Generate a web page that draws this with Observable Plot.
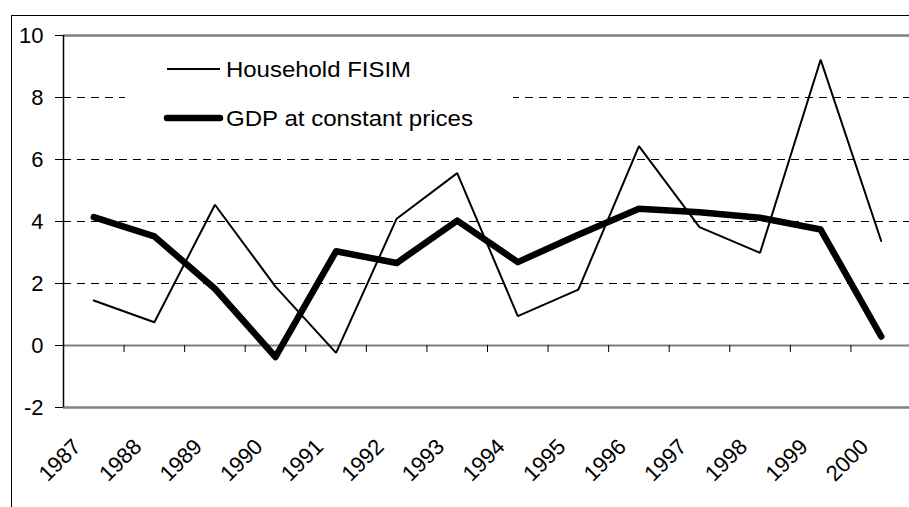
<!DOCTYPE html>
<html><head><meta charset="utf-8">
<script src="https://cdn.jsdelivr.net/npm/d3@7"></script>
<script src="https://cdn.jsdelivr.net/npm/@observablehq/plot@0.6"></script>
<style>
body{margin:0;background:#fff;overflow:hidden;width:909px;height:507px;position:relative;font-family:"Liberation Sans",Arial,sans-serif}
#frame{position:absolute;left:11px;top:15px;width:1000px;height:600px;border:1px solid #000;box-sizing:border-box}
#chart{position:absolute;left:0;top:0}
#legend{position:absolute;left:125px;top:50px;width:388px;height:86px;background:#fff}
</style>
</head><body>
<div id="frame"></div>
<div id="chart"></div>
<div id="legend"></div>
<script>
const years = [1987,1988,1989,1990,1991,1992,1993,1994,1995,1996,1997,1998,1999,2000];
const fisim = [1.45,0.75,4.54,1.9,-0.24,4.09,5.56,0.95,1.8,6.43,3.82,2.99,9.22,3.37];
const gdp   = [4.14,3.52,1.83,-0.37,3.04,2.66,4.03,2.69,3.57,4.41,4.3,4.12,3.74,0.29];
const yTicks = [-2,0,2,4,6,8,10];
const gridTicks = [2,4,6,8];
const seriesNames = ["Household FISIM","GDP at constant prices"];

const font = '"Liberation Sans", Arial, sans-serif';
const fisimData = years.map((yr,i)=>({year:yr, v:fisim[i]}));
const gdpData = years.map((yr,i)=>({year:yr, v:gdp[i]}));
const bounds = d3.range(years.length+1).map(i => years[0]-0.5+i);

const chart = Plot.plot({
  width:909, height:507,
  marginLeft:63, marginTop:35, marginRight:0, marginBottom:100,
  x:{domain:[bounds[0], bounds[bounds.length-1]], range:[63,911], axis:null},
  y:{domain:[yTicks[0], yTicks[yTicks.length-1]], range:[407,35], label:null},
  style:{fontFamily:font, fontSize:"22px", color:"#000", background:"transparent", overflow:"visible"},
  marks:[
    Plot.ruleY(gridTicks,{stroke:"#000",strokeWidth:1,strokeDasharray:"8,6"}),
    Plot.ruleY([yTicks[0], yTicks[yTicks.length-1]],{stroke:"#808080",strokeWidth:2.5}),
    Plot.ruleY([0],{stroke:"#808080",strokeWidth:2}),
    Plot.ruleX(bounds.slice(1),{x:d=>d, y1:()=>0, y2:()=>0, insetBottom:-7, stroke:"#000", strokeWidth:1}),
    Plot.ruleX([bounds[0]],{x:d=>d, y1:()=>yTicks[0], y2:()=>yTicks[yTicks.length-1], stroke:"#000", strokeWidth:1.5}),
    Plot.axisY({ticks:yTicks, tickSize:8, tickPadding:12, fontSize:22, label:null, tickFormat:d=>String(d)}),
    Plot.text(years,{x:d=>d, y:()=>yTicks[0], text:d=>String(d), rotate:-45, textAnchor:"end", dx:-16.5, dy:35.5, fontSize:22}),
    Plot.line(fisimData,{x:"year", y:"v", stroke:"#000", strokeWidth:2, strokeLinejoin:"miter"}),
    Plot.line(gdpData,{x:"year", y:"v", stroke:"#000", strokeWidth:6.5, strokeLinejoin:"round", strokeLinecap:"round"})
  ]
});
document.getElementById("chart").appendChild(chart);

// legend overlay
const lg = d3.select("#legend").append("svg").attr("width",388).attr("height",86);
const widths = [2,6.5];
const textWidths = [185,247];
seriesNames.forEach((name,i)=>{
  const cy = 19 + i*49;
  lg.append("line").attr("x1",42).attr("x2",95).attr("y1",cy).attr("y2",cy)
    .attr("stroke","#000").attr("stroke-width",widths[i]).attr("stroke-linecap", i? "round":"butt");
  lg.append("text").attr("x",101).attr("y",cy+8).attr("font-family",font).attr("font-size",22)
    .attr("textLength",textWidths[i]).attr("lengthAdjust","spacingAndGlyphs").text(name);
});
</script>
</body></html>
